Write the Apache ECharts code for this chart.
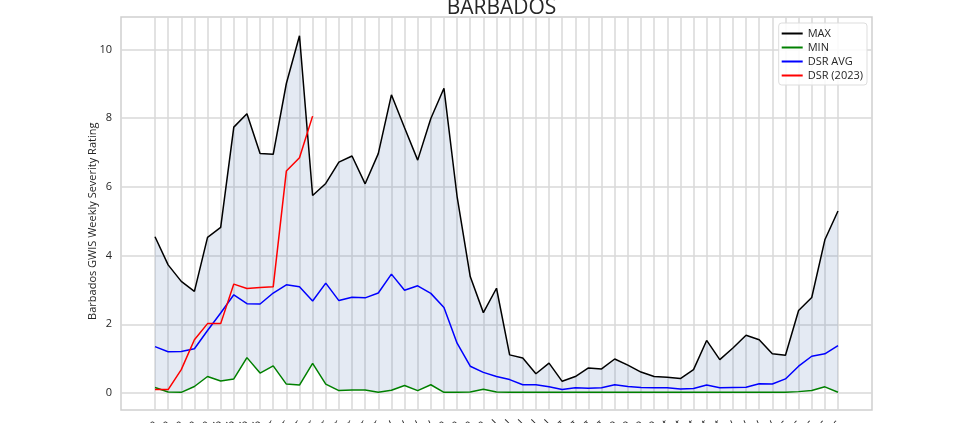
<!DOCTYPE html>
<html>
<head>
<meta charset="utf-8">
<script src="https://cdn.jsdelivr.net/npm/echarts@6/dist/echarts.min.js"></script>
<style>
html,body{margin:0;padding:0;background:#fff;}
#chart{width:969px;height:423px;}
</style>
</head>
<body>
<div id="chart"></div>
<script>
var weeks = ["01-Jan","08-Jan","15-Jan","22-Jan","29-Jan","05-Feb","12-Feb","19-Feb","26-Feb","05-Mar","12-Mar","19-Mar","26-Mar","02-Apr","09-Apr","16-Apr","23-Apr","30-Apr","07-May","14-May","21-May","28-May","04-Jun","11-Jun","18-Jun","25-Jun","02-Jul","09-Jul","16-Jul","23-Jul","30-Jul","06-Aug","13-Aug","20-Aug","27-Aug","03-Sep","10-Sep","17-Sep","24-Sep","01-Oct","08-Oct","15-Oct","22-Oct","29-Oct","05-Nov","12-Nov","19-Nov","26-Nov","03-Dec","10-Dec","17-Dec","24-Dec","31-Dec"];

var maxVals = [4.55,3.73,3.25,2.96,4.53,4.82,7.74,8.13,6.97,6.95,9.01,10.40,5.75,6.10,6.72,6.90,6.09,6.97,8.68,7.72,6.78,7.99,8.87,5.72,3.39,2.34,3.05,1.11,1.02,0.56,0.87,0.34,0.48,0.73,0.70,0.99,0.81,0.61,0.48,0.46,0.42,0.68,1.53,0.97,1.31,1.68,1.55,1.14,1.10,2.40,2.78,4.46,5.30];

var minVals = [0.16,0.03,0.02,0.19,0.48,0.35,0.41,1.03,0.58,0.79,0.26,0.23,0.86,0.26,0.07,0.09,0.09,0.02,0.08,0.22,0.07,0.24,0.02,0.02,0.03,0.11,0.03,0.02,0.02,0.02,0.02,0.02,0.02,0.02,0.02,0.02,0.02,0.02,0.02,0.02,0.02,0.02,0.02,0.02,0.02,0.02,0.02,0.02,0.02,0.04,0.07,0.18,0.02];

var avgVals = [1.35,1.20,1.21,1.29,1.82,2.33,2.86,2.60,2.59,2.91,3.15,3.09,2.68,3.20,2.69,2.79,2.77,2.91,3.46,2.99,3.12,2.90,2.49,1.45,0.78,0.60,0.48,0.39,0.24,0.24,0.18,0.10,0.15,0.14,0.15,0.24,0.19,0.16,0.15,0.15,0.12,0.13,0.23,0.15,0.16,0.17,0.27,0.26,0.41,0.78,1.07,1.14,1.38];

var dsr2023 = [0.10,0.10,0.68,1.55,2.02,2.02,3.17,3.04,3.07,3.09,6.46,6.85,8.06];

var yTicks = {min: 0, max: 10, interval: 2};

var bandBase = minVals.slice();
var bandSpan = maxVals.map(function(v, i){ return +(v - minVals[i]).toFixed(3); });

var FONT = 'Open Sans';
var TXT = '#262626';
var GRIDC = '#d9d9d9';

function lineSeries(name, data, color) {
  return {name: name, type: 'line', xAxisIndex: 3, yAxisIndex: 3, data: data, symbol: 'none',
    lineStyle: {color: color, width: 1.5}, itemStyle: {color: color}, clip: false};
}
function g(o) { o.containLabel = false; o.outerBoundsMode = 'none'; return o; }

var chart = echarts.init(document.getElementById('chart'), null, {renderer: 'canvas'});
chart.setOption({
  animation: false,
  backgroundColor: '#fff',
  title: {
    text: 'BARBADOS',
    left: 496.5,
    textAlign: 'center',
    top: -7,
    textStyle: {fontFamily: FONT, fontSize: 21, fontWeight: 'normal', color: TXT}
  },
  legend: {
    orient: 'vertical',
    right: 102,
    top: 23,
    data: ['MAX','MIN','DSR AVG','DSR (2023)'],
    icon: 'rect',
    itemWidth: 21,
    itemHeight: 2,
    itemGap: 1,
    padding: [4, 4, 3, 3],
    backgroundColor: 'rgba(255,255,255,0.85)',
    borderColor: '#dddddd',
    borderWidth: 1,
    borderRadius: 3,
    textStyle: {fontFamily: FONT, fontSize: 11, color: TXT, lineHeight: 13}
  },
  grid: [
    g({left: 121, right: 97, top: 17, bottom: 13, show: true, borderColor: '#cfcfcf', borderWidth: 1.5, backgroundColor: 'transparent'}),
    g({left: 121, right: 97, top: 49.5, bottom: 30}),
    g({left: 155, right: 131, top: 17, bottom: 13}),
    g({left: 155, right: 131, top: 49.5, bottom: 30})
  ],
  xAxis: [
    {gridIndex: 0, type: 'value', show: false, min: 0, max: 1},
    {gridIndex: 1, type: 'value', show: false, min: 0, max: 1},
    {
      gridIndex: 2, type: 'category', data: weeks, boundaryGap: false,
      axisLine: {show: false, onZero: false}, axisTick: {show: false},
      axisLabel: {rotate: 45, interval: 0, margin: 12, fontFamily: FONT, fontSize: 11, color: TXT, hideOverlap: false},
      splitLine: {show: true, interval: 0, lineStyle: {color: GRIDC, width: 1.5}}
    },
    {gridIndex: 3, type: 'category', data: weeks, boundaryGap: false, show: false}
  ],
  yAxis: [
    {gridIndex: 0, type: 'value', show: false, min: 0, max: 1},
    {
      gridIndex: 1, type: 'value', min: yTicks.min, max: yTicks.max, interval: yTicks.interval,
      name: 'Barbados GWIS Weekly Severity Rating', nameLocation: 'middle', nameGap: 23, nameMoveOverlap: false,
      nameTextStyle: {fontFamily: FONT, fontSize: 11, color: TXT},
      axisLine: {show: false}, axisTick: {show: false},
      axisLabel: {margin: 9, fontFamily: FONT, fontSize: 11, color: TXT},
      splitLine: {show: true, lineStyle: {color: GRIDC, width: 1.5}}
    },
    {gridIndex: 2, type: 'value', show: false, min: 0, max: 1, splitLine: {show: false}},
    {gridIndex: 3, type: 'value', show: false, min: yTicks.min, max: yTicks.max, interval: yTicks.interval, splitLine: {show: false}}
  ],
  series: [
    {name: 'band-base', type: 'line', xAxisIndex: 3, yAxisIndex: 3, stack: 'band', data: bandBase,
     symbol: 'none', lineStyle: {opacity: 0}, silent: true, clip: false},
    {name: 'band', type: 'line', xAxisIndex: 3, yAxisIndex: 3, stack: 'band', data: bandSpan,
     symbol: 'none', lineStyle: {opacity: 0}, areaStyle: {color: 'rgba(76,114,176,0.21)'}, silent: true, clip: false},
    lineSeries('MAX', maxVals, '#000000'),
    lineSeries('MIN', minVals, '#008000'),
    lineSeries('DSR AVG', avgVals, '#0000ff'),
    lineSeries('DSR (2023)', dsr2023, '#ff0000')
  ]
});
</script>
</body>
</html>
